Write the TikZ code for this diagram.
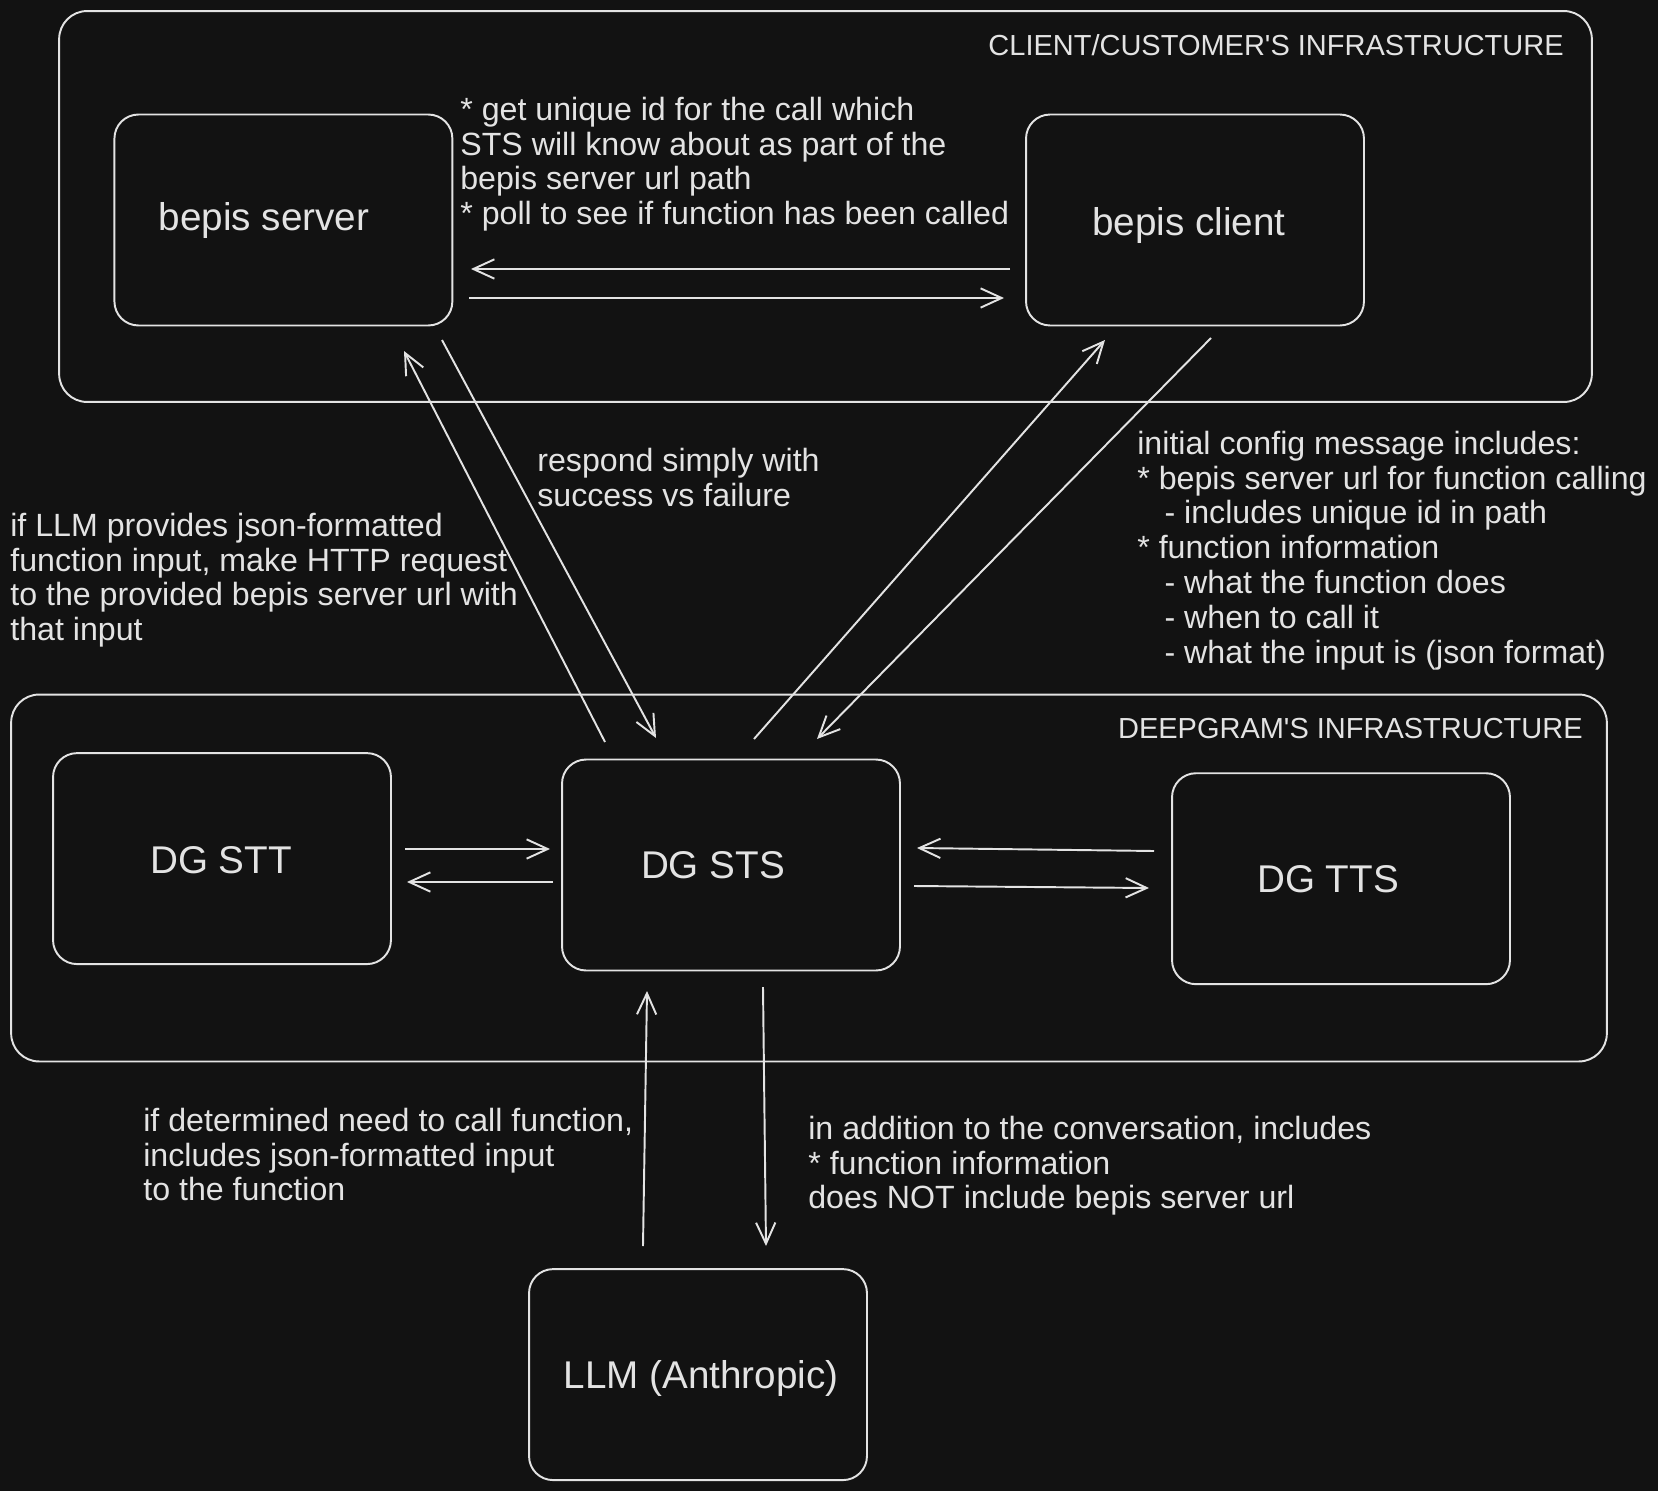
\documentclass[tikz,border=0pt]{standalone}
\usepackage{fontspec}
\setmainfont{Liberation Sans}
\newfontfamily\hdrfont{Liberation Sans}
\usetikzlibrary{arrows.meta}
\definecolor{bg}{HTML}{121212}
\definecolor{fg}{HTML}{E3E3E3}
\begin{document}
\begin{tikzpicture}[x=0.02cm,y=-0.02cm,
  box/.style={draw=fg, line width=1.1pt, rounded corners=0.48cm, minimum width=6.76cm, minimum height=4.22cm, inner sep=0pt},
  zone/.style={draw=fg, line width=1.1pt, rounded corners=0.56cm, inner sep=0pt},
  lbl/.style={text=fg, font=\fontsize{22pt}{26pt}\selectfont, inner sep=0pt},
  note/.style={text=fg, font=\fontsize{18.3pt}{19.85pt}\selectfont, align=left, inner sep=0pt, anchor=north west},
  hdr/.style={text=fg, font=\hdrfont\fontsize{16.5pt}{19pt}\selectfont, inner sep=0pt, anchor=base east},
  arr/.style={draw=fg, line width=1.1pt, -{Straight Barb[length=12pt,width=11pt,line width=1.1pt]}}]
\fill[bg] (0,0) rectangle (1658,1491);
\useasboundingbox (0,0) rectangle (1658,1491);

% zones
\node[zone, minimum width=30.66cm, minimum height=7.82cm] (client) at (825.5,206.5) {};
\node[zone, minimum width=31.92cm, minimum height=7.34cm] (dg) at (809,878) {};
\node[hdr] (hc) at (1564,55) {CLIENT/CUSTOMER'S INFRASTRUCTURE};
\node[hdr] (hd) at (1583,738) {DEEPGRAM'S INFRASTRUCTURE};

% boxes
\node[box] (srv) at (283.4,220) {};
\node[box] (cli) at (1195,220) {};
\node[box] (stt) at (222,858.6) {};
\node[box] (sts) at (731,865) {};
\node[box] (tts) at (1341,878.7) {};
\node[box] (llm) at (698,1374.6) {};

% labels
\node[lbl] (srvL) at (264,221) {bepis server};
\node[lbl] (cliL) at (1189,226) {bepis client};
\node[lbl] (sttL) at (221,860) {DG STT};
\node[lbl] (stsL) at (713,865) {DG STS};
\node[lbl] (ttsL) at (1328,879) {DG TTS};
\node[lbl] (llmL) at (701,1378) {LLM (Anthropic)};

% notes
\node[note] (n1) at (460,96.5) {* get unique id for the call which\\STS will know about as part of the\\bepis server url path\\* poll to see if function has been called};
\node[note] (n2) at (537,447.5) {respond simply with\\success vs failure};
\node[note] (n3) at (10,512.5) {if LLM provides json-formatted\\function input, make HTTP request\\to the provided bepis server url with\\that input};
\node[note] (n4) at (1137,430.5) {initial config message includes:\\* bepis server url for function calling\\\hspace*{15.5pt}- includes unique id in path\\* function information\\\hspace*{15.5pt}- what the function does\\\hspace*{15.5pt}- when to call it\\\hspace*{15.5pt}- what the input is (json format)};
\node[note] (n5) at (143,1107.5) {if determined need to call function,\\includes json-formatted input\\to the function};
\node[note] (n6) at (808,1115.5) {in addition to the conversation, includes\\* function information\\does NOT include bepis server url};

% connector end points
\coordinate (a1s) at (1010,269); \coordinate (a1e) at (471,269);
\coordinate (a2s) at (469,298);  \coordinate (a2e) at (1004,298);
\coordinate (a3s) at (605,742);  \coordinate (a3e) at (404,351);
\coordinate (a4s) at (442,340);  \coordinate (a4e) at (656,738);
\coordinate (a5s) at (754,739);  \coordinate (a5e) at (1105,340);
\coordinate (a6s) at (1211,338); \coordinate (a6e) at (817,739);
\coordinate (a7s) at (405,849);  \coordinate (a7e) at (550,849);
\coordinate (a8s) at (553,882);  \coordinate (a8e) at (407,882);
\coordinate (a9s) at (1154,851); \coordinate (a9e) at (917,848);
\coordinate (a10s) at (914,886); \coordinate (a10e) at (1149,888);
\coordinate (a11s) at (643,1246); \coordinate (a11e) at (647,991);
\coordinate (a12s) at (763,987); \coordinate (a12e) at (766,1246);

\draw[arr] (a1s) -- (a1e);
\draw[arr] (a2s) -- (a2e);
\draw[arr] (a3s) -- (a3e);
\draw[arr] (a4s) -- (a4e);
\draw[arr] (a5s) -- (a5e);
\draw[arr] (a6s) -- (a6e);
\draw[arr] (a7s) -- (a7e);
\draw[arr] (a8s) -- (a8e);
\draw[arr] (a9s) -- (a9e);
\draw[arr] (a10s) -- (a10e);
\draw[arr] (a11s) -- (a11e);
\draw[arr] (a12s) -- (a12e);
\end{tikzpicture}
\end{document}
